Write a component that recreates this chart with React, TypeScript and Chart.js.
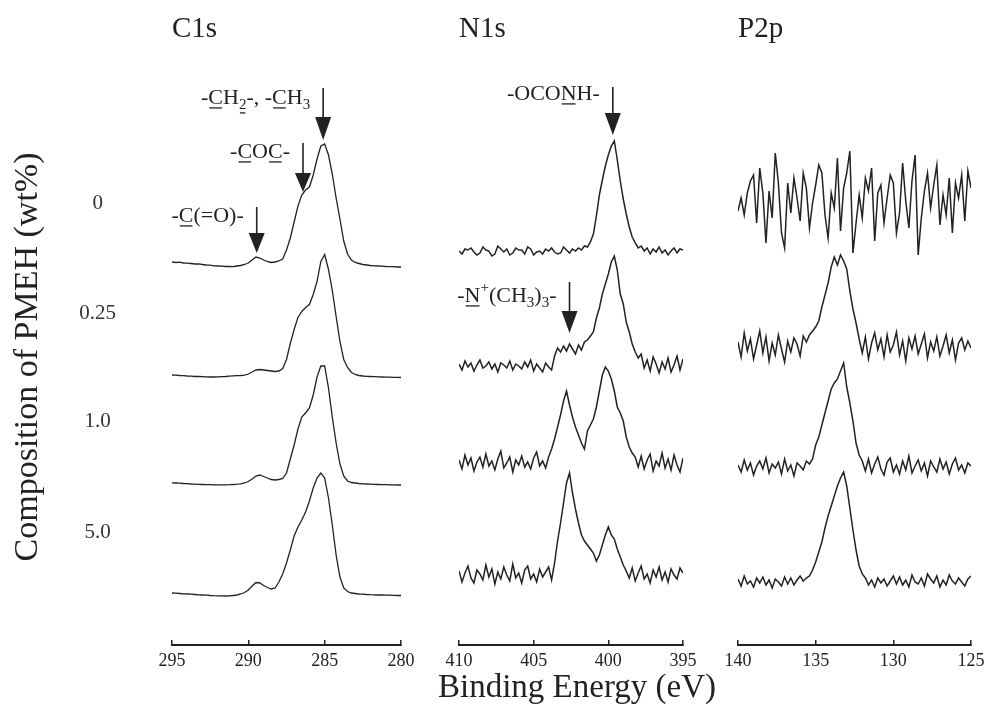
import React, { useEffect, useRef } from 'react';
import { Chart, registerables } from 'chart.js';

Chart.register(...registerables);

const FONT = "'Liberation Serif', 'Times New Roman', serif";
const INK = '#222222';

// ---------------- data ----------------
const COMPOSITIONS = ['0', '0.25', '1.0', '5.0']; // wt% PMEH

const C1S_ENERGY = [295, 294.75, 294.5, 294.25, 294, 293.75, 293.5, 293.25, 293, 292.75, 292.5, 292.25, 292, 291.75, 291.5, 291.25, 291, 290.75, 290.5, 290.25, 290, 289.75, 289.5, 289.25, 289, 288.75, 288.5, 288.25, 288, 287.75, 287.5, 287.25, 287, 286.75, 286.5, 286.25, 286, 285.75, 285.5, 285.25, 285, 284.75, 284.5, 284.25, 284, 283.75, 283.5, 283.25, 283, 282.75, 282.5, 282.25, 282, 281.75, 281.5, 281.25, 281, 280.75, 280.5, 280.25, 280];
const C1S_0 = [5, 4.5, 4.8, 4, 3.8, 3.5, 3, 3.2, 2.5, 2, 1.8, 1.2, 1, 0.8, 0.5, 0.6, 0.4, 1, 1.5, 2.5, 4, 7, 10, 9, 7, 5.5, 4.5, 5, 6, 8, 17, 29, 45, 61, 72, 77, 80, 92, 108, 121, 123, 112, 93, 69, 48, 26, 13, 7, 4.5, 3.5, 2.5, 2, 1.5, 1.2, 1, 0.8, 0.5, 0.3, 0.4, 0, 0];
const C1S_025 = [2.5, 2.3, 2, 1.8, 1.5, 1.3, 1, 1, 0.8, 0.6, 0.5, 0.5, 0.6, 0.8, 1, 1.3, 1.6, 1.8, 2, 2.3, 3.5, 5.5, 7.5, 8, 7.5, 7, 6.5, 6, 6.5, 9, 18, 34, 48, 60, 66, 70, 73, 83, 96, 116, 123, 108, 87, 61, 36, 18, 10, 5, 3, 2, 1.5, 1.2, 1, 0.8, 0.6, 0.5, 0.4, 0.3, 0.2, 0.1, 0];
const C1S_1 = [2.2, 2, 1.8, 1.5, 1.3, 1, 0.8, 0.6, 0.5, 0.4, 0.3, 0.2, 0.2, 0.1, 0.2, 0.3, 0.5, 0.8, 1.2, 2, 3.5, 6, 9, 10, 8.5, 7, 5.5, 5, 5.5, 6.5, 12, 26, 40, 56, 68, 72, 77, 90, 108, 119, 119, 97, 68, 42, 21, 9, 4, 2.5, 2, 1.5, 1.2, 1, 0.8, 0.6, 0.5, 0.4, 0.3, 0.2, 0.1, 0, 0];
const C1S_5 = [3, 2.8, 2.5, 2.2, 2, 1.8, 1.5, 1.2, 1, 0.8, 0.5, 0.3, 0.2, 0.1, 0, 0.2, 0.5, 1, 2, 3.5, 6, 10, 13.5, 13, 10.5, 8.5, 7, 8, 14, 22, 33, 46, 60, 69, 76, 84, 95, 108, 118, 123, 118, 98, 71, 41, 19, 8, 4.5, 3, 2.5, 2, 1.8, 1.5, 1.3, 1.2, 1, 1, 0.8, 0.8, 0.6, 0.5, 0.5];
const C1S_OFFSET = [378, 267.5, 160, 49];

const N1S_ENERGY = [410, 409.8, 409.6, 409.4, 409.2, 409, 408.8, 408.6, 408.4, 408.2, 408, 407.8, 407.6, 407.4, 407.2, 407, 406.8, 406.6, 406.4, 406.2, 406, 405.8, 405.6, 405.4, 405.2, 405, 404.8, 404.6, 404.4, 404.2, 404, 403.8, 403.6, 403.4, 403.2, 403, 402.8, 402.6, 402.4, 402.2, 402, 401.8, 401.6, 401.4, 401.2, 401, 400.8, 400.6, 400.4, 400.2, 400, 399.8, 399.6, 399.4, 399.2, 399, 398.8, 398.6, 398.4, 398.2, 398, 397.8, 397.6, 397.4, 397.2, 397, 396.8, 396.6, 396.4, 396.2, 396, 395.8, 395.6, 395.4, 395.2, 395];
const N1S_0 = [1, -2, 3, 2, 4, 0, -3, -1, 5, 2, 1, -4, -2, 6, 3, 0, 3, -3, -1, 4, 2, 2, -2, 5, 3, -3, 0, 1, -2, 3, 1, 4, 0, -2, -1, 5, 2, -1, 3, 1, 4, 2, 6, 5, 10, 18, 36, 57, 72, 86, 97, 106, 111, 92, 71, 53, 38, 25, 15, 9, 4, 6, 1, 4, -2, 3, 0, 5, -1, 2, -3, 1, 4, -1, 3, 2];
const N1S_025 = [2, -4, 5, -1, 3, -5, 1, 6, -2, 0, 4, -3, 2, -6, 3, 1, -2, 5, -4, 2, 0, -3, 4, -1, 6, -5, 2, -2, -6, 3, -1, -4, 10, 18, 14, 20, 15, 22, 17, 12, 21, 16, 24, 26, 30, 34, 48, 58, 72, 82, 92, 104, 110, 96, 72, 62, 44, 34, 22, 14, 8, 12, -2, 6, -5, 9, 2, -7, 4, -3, 8, -6, 1, 10, -4, 7];
const N1S_1 = [3, -6, 8, -2, 5, -8, 1, 6, -4, 9, -3, 2, -7, 4, 12, -5, 0, 6, -9, 3, -2, 7, -4, 1, -6, 5, 11, -3, 2, -5, 6, 14, 24, 36, 48, 62, 72, 58, 46, 36, 28, 20, 14, 32, 38, 44, 56, 72, 88, 96, 92, 84, 72, 56, 50, 42, 26, 16, 10, 6, -4, 7, -6, 3, 9, -8, 2, -3, 10, -5, 4, -7, 8, -2, -9, 5];
const N1S_5 = [4, -7, 2, 9, -3, -8, 5, 1, -5, 10, -2, 6, -9, 3, -4, 8, 0, -6, 11, -3, 2, -8, 5, 9, -4, 1, -7, 6, -2, 3, 8, -5, 12, 34, 52, 72, 92, 102, 82, 66, 52, 40, 34, 30, 26, 22, 14, 20, 30, 40, 48, 40, 36, 26, 18, 10, 4, -3, 7, -6, 2, 9, -4, 1, -8, 5, -2, 8, -5, 3, -7, 6, 0, -4, 7, 2];
const N1S_OFFSET = [393, 279, 182, 70];

const P2P_ENERGY = [140, 139.8, 139.6, 139.4, 139.2, 139, 138.8, 138.6, 138.4, 138.2, 138, 137.8, 137.6, 137.4, 137.2, 137, 136.8, 136.6, 136.4, 136.2, 136, 135.8, 135.6, 135.4, 135.2, 135, 134.8, 134.6, 134.4, 134.2, 134, 133.8, 133.6, 133.4, 133.2, 133, 132.8, 132.6, 132.4, 132.2, 132, 131.8, 131.6, 131.4, 131.2, 131, 130.8, 130.6, 130.4, 130.2, 130, 129.8, 129.6, 129.4, 129.2, 129, 128.8, 128.6, 128.4, 128.2, 128, 127.8, 127.6, 127.4, 127.2, 127, 126.8, 126.6, 126.4, 126.2, 126, 125.8, 125.6, 125.4, 125.2, 125];
const P2P_0 = [-8, 5, -12, 10, 22, 28, -20, 35, 10, -40, 12, -15, 50, 20, -30, -45, 20, -10, 25, 5, -18, 30, 15, -25, 0, 18, 38, 30, -12, -35, 10, -5, 45, -28, 15, 30, 52, -50, -20, 8, -15, 25, 12, 35, -38, 10, 18, -20, 5, 28, 20, -30, -10, 40, 2, -25, 22, 48, -52, -15, 12, 30, -5, 18, 38, -22, 8, -12, 25, -30, 20, 5, 28, -18, 32, 15];
const P2P_025 = [5, -10, 14, -4, 8, -12, 2, 16, -6, 10, -14, 4, -8, 12, -2, -15, 6, -5, 9, 3, -9, 11, 5, 12, 16, 20, 26, 40, 52, 64, 80, 90, 82, 92, 86, 78, 56, 38, 24, 8, -6, 10, -12, 4, 14, -3, 8, -10, 12, -5, 2, 15, -8, 6, -14, 9, -2, 11, -7, 3, 13, -11, 5, -4, 10, -9, 1, 12, -6, 7, -13, 4, 9, -3, 6, -1];
const P2P_1 = [2, -5, 7, -3, 4, -8, 1, 6, -2, 9, -6, 3, -1, 5, -7, 8, -4, 2, -9, 4, 1, -3, 6, 3, 8, 22, 30, 42, 54, 66, 78, 84, 88, 96, 104, 80, 64, 46, 24, 12, 6, -4, 8, -6, 3, 10, -2, -8, 5, 9, -5, 2, -7, 6, -3, 11, -6, 1, 7, -4, 4, -9, 6, 0, -5, 8, -2, 5, -7, 3, 9, -3, 2, -6, 4, 1];
const P2P_5 = [3, -4, 6, -2, 1, -5, 4, -1, 5, -3, 2, -6, 3, 0, -4, 5, -2, 4, -3, 2, 6, 1, 4, 6, 12, 20, 30, 40, 54, 66, 76, 86, 96, 104, 110, 96, 74, 52, 32, 16, 8, 4, -3, 2, -5, 4, -1, 3, -4, 1, 6, -2, 5, -3, 2, -5, 7, 0, -2, 4, -4, 8, 3, -1, 6, -5, 2, -3, 7, 1, -2, 4, 0, -4, 3, 6];
const P2P_OFFSET = [442, 298, 178, 63];

// ---------------- annotations ----------------
type Seg = { t: string; sub?: boolean; sup?: boolean; u?: boolean };
type Note = { e: number; top: number; head: number; tip: number; textY: number; segs: Seg[] };

const LBL_CH: Seg[] = [{ t: '-' }, { t: 'C', u: true }, { t: 'H' }, { t: '2', sub: true, u: true }, { t: '-, -' }, { t: 'C', u: true }, { t: 'H' }, { t: '3', sub: true }];
const LBL_COC: Seg[] = [{ t: '-' }, { t: 'C', u: true }, { t: 'O' }, { t: 'C', u: true }, { t: '-' }];
const LBL_CO: Seg[] = [{ t: '-' }, { t: 'C', u: true }, { t: '(=O)-' }];
const LBL_OCONH: Seg[] = [{ t: '-OCO' }, { t: 'N', u: true }, { t: 'H-' }];
const LBL_NPLUS: Seg[] = [{ t: '-' }, { t: 'N', u: true }, { t: '+', sup: true }, { t: '(CH' }, { t: '3', sub: true }, { t: ')' }, { t: '3', sub: true }, { t: '-' }];

const C1S_NOTES: Note[] = [
  { e: 285.1, top: 557, head: 528, tip: 505, textY: 548, segs: LBL_CH },
  { e: 286.42, top: 502, head: 472, tip: 453, textY: 494, segs: LBL_COC },
  { e: 289.45, top: 438, head: 412, tip: 392, textY: 430, segs: LBL_CO },
];
const N1S_NOTES: Note[] = [
  { e: 399.7, top: 558, head: 532, tip: 510, textY: 552, segs: LBL_OCONH },
  { e: 402.6, top: 363, head: 334, tip: 312, textY: 350, segs: LBL_NPLUS },
];

// ---------------- layout ----------------
const CANVAS_H = 708;
const PLOT_TOP = 69;
const PLOT_BOTTOM = 645;
const Y_MAX = PLOT_BOTTOM - PLOT_TOP;
const TITLE_SIZE = 29;
const TITLE_PAD_TOP = 12;
const SUB_SIZE = 33;
const SUB_H = SUB_SIZE * 1.2;
const XAXIS_H = CANVAS_H - PLOT_BOTTOM - SUB_H;

function drawRich(ctx: CanvasRenderingContext2D, segs: Seg[], rightX: number, midY: number) {
  const base = 22;
  const small = 15;
  const fontOf = (s: Seg) => `${s.sub || s.sup ? small : base}px ${FONT}`;
  let total = 0;
  const widths = segs.map((s) => {
    ctx.font = fontOf(s);
    const w = ctx.measureText(s.t).width;
    total += w;
    return w;
  });
  let x = rightX - total;
  const baseline = midY + base * 0.33;
  ctx.textAlign = 'left';
  ctx.textBaseline = 'alphabetic';
  ctx.fillStyle = INK;
  segs.forEach((s, i) => {
    ctx.font = fontOf(s);
    const y = s.sub ? baseline + 5 : s.sup ? baseline - 10 : baseline;
    ctx.fillText(s.t, x, y);
    if (s.u) ctx.fillRect(x + 1, y + 3, widths[i] - 2, 1.3);
    x += widths[i];
  });
}

function makeArrowPlugin(notes: Note[]) {
  return {
    id: 'peakArrows',
    afterDatasetsDraw(chart: any) {
      const { ctx } = chart;
      const xs = chart.scales.x;
      const ys = chart.scales.y;
      ctx.save();
      for (const n of notes) {
        const px = xs.getPixelForValue(n.e);
        const yTop = ys.getPixelForValue(n.top);
        const yHead = ys.getPixelForValue(n.head);
        const yTip = ys.getPixelForValue(n.tip);
        ctx.strokeStyle = INK;
        ctx.lineWidth = 1.6;
        ctx.beginPath();
        ctx.moveTo(px, yTop);
        ctx.lineTo(px, yHead + 1);
        ctx.stroke();
        ctx.fillStyle = INK;
        ctx.beginPath();
        ctx.moveTo(px - 8, yHead);
        ctx.lineTo(px + 8, yHead);
        ctx.lineTo(px, yTip);
        ctx.closePath();
        ctx.fill();
        drawRich(ctx, n.segs, px - 13, ys.getPixelForValue(n.textY));
      }
      ctx.restore();
    },
  };
}

type PanelSpec = {
  title: string;
  subtitle: string;
  energy: number[];
  series: number[][];
  offsets: number[];
  xmin: number;
  xmax: number;
  notes: Note[];
  left: number;
  leftW: number;
  plotW: number;
  rightW: number;
  showLabels: boolean;
  lineWidth: number;
};

const PANELS: PanelSpec[] = [
  { title: 'C1s', subtitle: '', energy: C1S_ENERGY, series: [C1S_0, C1S_025, C1S_1, C1S_5], offsets: C1S_OFFSET, xmin: 280, xmax: 295, notes: C1S_NOTES, left: 0, leftW: 172, plotW: 229, rightW: 20, showLabels: true, lineWidth: 1.3 },
  { title: 'N1s', subtitle: 'Binding Energy (eV)', energy: N1S_ENERGY, series: [N1S_0, N1S_025, N1S_1, N1S_5], offsets: N1S_OFFSET, xmin: 395, xmax: 410, notes: N1S_NOTES, left: 420, leftW: 39, plotW: 224, rightW: 51, showLabels: false, lineWidth: 1.5 },
  { title: 'P2p', subtitle: '', energy: P2P_ENERGY, series: [P2P_0, P2P_025, P2P_1, P2P_5], offsets: P2P_OFFSET, xmin: 125, xmax: 140, notes: [], left: 718, leftW: 20, plotW: 233, rightW: 16, showLabels: false, lineWidth: 1.5 },
];

function fixWidth(w: number) {
  return (s: any) => {
    s.width = w;
    s.paddingTop = 0;
    s.paddingBottom = 0;
    s.paddingLeft = 0;
    s.paddingRight = 0;
  };
}

function buildConfig(p: PanelSpec): any {
  const labelLevels = C1S_OFFSET.map((o) => o + 64);
  const datasets = p.series.map((vals, i) => ({
    label: COMPOSITIONS[i],
    data: p.energy.map((e, k) => ({ x: e, y: vals[k] + p.offsets[i] })),
    borderColor: INK,
    borderWidth: p.lineWidth,
    pointRadius: 0,
    tension: 0,
    fill: false,
  }));
  const hiddenY = {
    min: 0,
    max: Y_MAX,
    ticks: { display: false },
    grid: { display: false, drawTicks: false },
    border: { display: false },
  };
  const yLeft: any = p.showLabels
    ? {
        position: 'left',
        min: 0,
        max: Y_MAX,
        grid: { display: false, drawTicks: false },
        border: { display: false },
        afterBuildTicks: (s: any) => {
          s.ticks = labelLevels.map((v) => ({ value: v }));
        },
        ticks: {
          callback: (_v: any, i: number) => COMPOSITIONS[i],
          font: { family: FONT, size: 21 },
          color: '#333',
          crossAlign: 'center',
          padding: 56,
        },
        title: {
          display: true,
          text: 'Composition of PMEH (wt%)',
          font: { family: FONT, size: 34 },
          color: INK,
          padding: { top: 8, bottom: 0 },
        },
        afterFit: fixWidth(p.leftW),
      }
    : { ...hiddenY, position: 'left', afterFit: fixWidth(p.leftW) };
  return {
    type: 'line',
    data: { datasets },
    plugins: [makeArrowPlugin(p.notes)],
    options: {
      responsive: false,
      animation: false,
      devicePixelRatio: 1,
      layout: { padding: 0, autoPadding: false },
      events: [],
      scales: {
        x: {
          type: 'linear',
          reverse: true,
          min: p.xmin,
          max: p.xmax,
          ticks: { stepSize: 5, font: { family: FONT, size: 18 }, color: INK, padding: 10, maxRotation: 0, autoSkip: false },
          grid: { display: true, drawOnChartArea: false, drawTicks: true, tickLength: -5, color: INK, lineWidth: 1.5 },
          border: { display: true, color: INK, width: 2 },
          afterFit: (s: any) => {
            s.height = XAXIS_H;
            s.paddingTop = 0;
            s.paddingBottom = 0;
            s.paddingLeft = 0;
            s.paddingRight = 0;
          },
        },
        y: yLeft,
        y2: { ...hiddenY, position: 'right', afterFit: fixWidth(p.rightW) },
      },
      plugins: {
        legend: { display: false },
        tooltip: { enabled: false },
        title: {
          display: true,
          text: p.title,
          align: 'start',
          fullSize: false,
          color: INK,
          font: { family: FONT, size: TITLE_SIZE, weight: 'normal', lineHeight: 1.2 },
          padding: { top: TITLE_PAD_TOP, bottom: PLOT_TOP - TITLE_PAD_TOP - TITLE_SIZE * 1.2 },
        },
        subtitle: {
          display: true,
          position: 'bottom',
          text: p.subtitle,
          color: INK,
          font: { family: FONT, size: SUB_SIZE, weight: 'normal', lineHeight: 1.2 },
          padding: { top: 0, bottom: 0 },
        },
      },
    },
  };
}

function Panel({ spec }: { spec: PanelSpec }) {
  const ref = useRef<HTMLCanvasElement>(null);
  const width = spec.leftW + spec.plotW + spec.rightW;
  useEffect(() => {
    const chart = new Chart(ref.current as HTMLCanvasElement, buildConfig(spec));
    return () => chart.destroy();
  }, [spec]);
  return (
    <canvas
      ref={ref}
      width={width}
      height={CANVAS_H}
      style={{ position: 'absolute', left: spec.left, top: 0, width, height: CANVAS_H }}
    />
  );
}

export default function App() {
  return (
    <div style={{ position: 'absolute', left: 0, top: 0, width: 987, height: CANVAS_H, background: '#ffffff', overflow: 'hidden' }}>
      {PANELS.map((p) => (
        <Panel key={p.title} spec={p} />
      ))}
    </div>
  );
}
